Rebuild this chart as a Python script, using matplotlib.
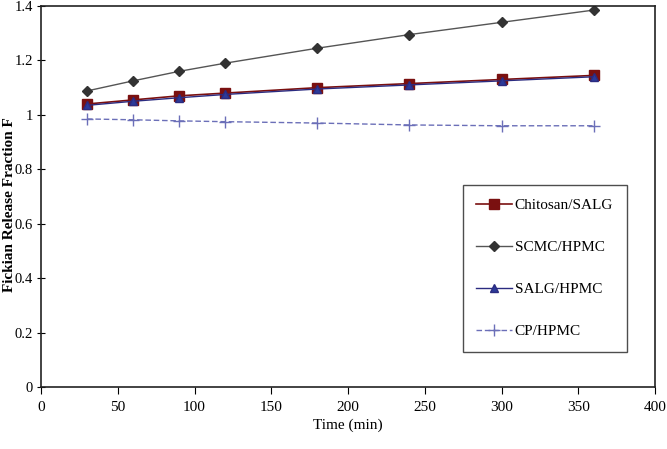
import matplotlib
matplotlib.use("Agg")
import matplotlib.pyplot as plt

time = [30, 60, 90, 120, 180, 240, 300, 360]
chitosan_salg = [1.040, 1.055, 1.070, 1.080, 1.100, 1.115, 1.130, 1.145]
scmc_hpmc = [1.088, 1.125, 1.160, 1.190, 1.245, 1.295, 1.340, 1.385]
salg_hpmc = [1.035, 1.050, 1.063, 1.075, 1.095, 1.110, 1.125, 1.140]
cp_hpmc = [0.985, 0.982, 0.978, 0.975, 0.970, 0.963, 0.960, 0.960]

plt.rcParams['font.family'] = ['Liberation Serif', 'DejaVu Serif']

fig = plt.figure(figsize=(6.67, 4.49), dpi=100)
ax = fig.add_axes([0.0615, 0.138, 0.9205, 0.8486])

ax.plot(time, chitosan_salg, color='#7a1010', marker='s', markersize=6.5, lw=1.2,
        label='Chitosan/SALG')
ax.plot(time, scmc_hpmc, color='#555555', marker='D', markersize=5,
        markerfacecolor='#333333', markeredgecolor='#333333', lw=1.0, label='SCMC/HPMC')
ax.plot(time, salg_hpmc, color='#2b2b80', marker='^', markersize=6,
        markerfacecolor='#2b3a99', lw=1.0, label='SALG/HPMC')
ax.plot(time, cp_hpmc, color='#6b6fb8', marker='+', markersize=8, lw=1.0,
        linestyle=(0, (4, 2)), label='CP/HPMC')

ax.set_xlim(0, 400)
ax.set_ylim(0, 1.4)
ax.set_xticks(range(0, 401, 50))
ax.set_yticks([0, 0.2, 0.4, 0.6, 0.8, 1.0, 1.2, 1.4])
ax.set_yticklabels(['0', '0.2', '0.4', '0.6', '0.8', '1', '1.2', '1.4'])
ax.tick_params(axis='x', direction='out', length=5, labelsize=11, pad=5)
ax.tick_params(axis='y', direction='inout', length=6, labelsize=10.5, pad=3)
for s in ax.spines.values():
    s.set_linewidth(1.2)
    s.set_color('#222222')

ax.set_xlabel('Time (min)', fontsize=11, labelpad=3)
ax.set_ylabel('Fickian Release Fraction F', fontsize=11, fontweight='bold')
ax.yaxis.set_label_coords(-0.0415, 0.478)

leg = ax.legend(loc='lower right', bbox_to_anchor=(0.954, 0.092), fontsize=11,
                frameon=True, fancybox=False, edgecolor='#222222',
                labelspacing=1.85, borderpad=0.9, borderaxespad=0,
                handlelength=2.3, handletextpad=0.2)
leg.get_frame().set_linewidth(1.0)

fig.savefig('out.png', dpi=100)
